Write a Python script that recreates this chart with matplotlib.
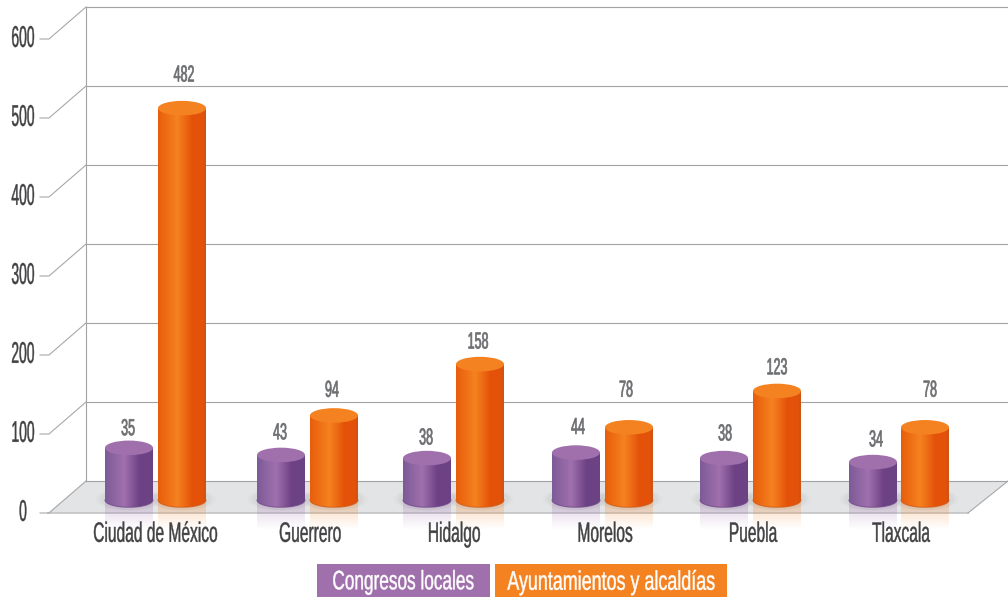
import numpy as np
import matplotlib
matplotlib.use('Agg')
import matplotlib.pyplot as plt
from matplotlib.colors import LinearSegmentedColormap, to_rgb
from matplotlib.patches import Ellipse, PathPatch, Polygon, Rectangle
from matplotlib.path import Path
from matplotlib.patheffects import AbstractPathEffect
from matplotlib.transforms import Affine2D

categories = ['Ciudad de México', 'Guerrero', 'Hidalgo', 'Morelos', 'Puebla', 'Tlaxcala']
congresos_labels = [35, 43, 38, 44, 38, 34]
ayuntamientos_labels = [482, 94, 158, 78, 123, 78]
# drawn height of the cylinders, read against the gridlines (not the same as the labels)
congresos_heights = [66, 57, 53, 60, 53, 48]
ayuntamientos_heights = [496, 107, 172, 92, 138, 92]
yticks = [0, 100, 200, 300, 400, 500, 600]
legend_names = ['Congresos locales', 'Ayuntamientos y alcaldías']

# layout, x is in pixels
px = 0.79  # pixels per unit
DEPTH = 32 / px
BASE = -19 / px
cat_x = [155, 310, 454, 605, 753, 901]
purple_x = [129, 281, 427, 576, 724, 873]
orange_x = [182, 334, 480, 629, 777, 925]
purple_lab_x = [128, 280, 426, 578, 725, 876]
orange_lab_x = [184, 332, 478, 626, 777, 930]
purple_gap = [21, 24, 22, 27, 26, 24]
orange_gap = [35, 27, 24, 39, 25, 39]
BAR_W = 48
RY = 7.3 / px

PURPLE = ['#7d5b98', '#a070ad', '#6d4285', '#6a4383']
ORANGE = ['#e85d0b', '#f58220', '#e4520a', '#cf5412']
FONT = 'Liberation Sans'


class Stretch(AbstractPathEffect):
    # pulls the glyphs up around the text centre, the reference font is tall and condensed
    def __init__(self, y0, sy, lw):
        super().__init__()
        self.y0 = y0
        self.sy = sy
        self.lw = lw

    def draw_path(self, renderer, gc, tpath, affine, rgbFace=None):
        aff = affine + Affine2D().translate(0, -self.y0).scale(1, self.sy).translate(0, self.y0)
        gc0 = renderer.new_gc()
        gc0.copy_properties(gc)
        gc0.set_linewidth(self.lw)
        gc0.set_foreground(rgbFace)
        renderer.draw_path(gc0, tpath, aff, rgbFace)
        gc0.restore()


fig = plt.figure(figsize=(10.08, 5.97), dpi=100)
ax = fig.add_axes([0, 0, 1, 1])
ax.set_xlim(0, 1008)
ax.set_ylim(-116 / px, 481 / px)
ax.axis('off')


def label(x, y, s, size, color, sy, lw=.3):
    y0 = ax.transData.transform((x, y))[1]
    ax.text(x, y, s, fontsize=size, color=color, ha='center', va='center_baseline', family=FONT,
            path_effects=[Stretch(y0, sy, lw)], zorder=20)


def cylinder(x, h, cols):
    l, r = x - BAR_W / 2, x + BAR_W / 2
    top = BASE + h
    t = np.linspace(0, np.pi, 40)
    xs = x + BAR_W / 2 * np.cos(t)
    verts = list(zip(xs, np.full(40, top))) + list(zip(xs[::-1], BASE - RY * np.sin(t[::-1])))
    cmap = LinearSegmentedColormap.from_list(
        'c', [(0, cols[0]), (.4, cols[1]), (.72, cols[2]), (.93, cols[2]), (1, cols[3])])

    # shadow on the floor
    for k, a in zip([1.4, 1.3, 1.2], [.03, .04, .05]):
        ax.add_patch(Ellipse((x, BASE + 1), BAR_W * k, 22 / px, fc='#888888', ec='none', alpha=a, zorder=3))
    # reflection
    fade = np.zeros((30, 2, 4))
    fade[..., :3] = to_rgb(cols[1])
    fade[..., 3] = np.linspace(.3, 0, 30)[:, None]
    ax.imshow(fade, extent=[l, r, BASE - 30 / px, BASE - 2 / px], aspect='auto', zorder=4)

    im = ax.imshow(np.linspace(0, 1, 96)[None, :], extent=[l, r, BASE - RY, top], aspect='auto',
                   cmap=cmap, vmin=0, vmax=1, zorder=6)
    body = PathPatch(Path(verts), transform=ax.transData, fc='none', ec='none')
    ax.add_patch(body)
    im.set_clip_path(body)
    # dark rim along the bottom
    ax.plot(xs, BASE - RY * np.sin(t), color=cols[3], lw=.8, alpha=.7, zorder=7)
    ax.add_patch(Ellipse((x, top), BAR_W, 2 * RY, fc=cols[1], ec='none', zorder=8))


# back wall and floor
ax.add_patch(Polygon([(48, -DEPTH), (86, 0), (1008, 0), (968, -DEPTH)],
                     fc='#e3e4e6', ec='none', zorder=1))
ax.plot([48, 968], [-DEPTH, -DEPTH], color='#c2c3c5', lw=1.2, zorder=2)
ax.plot([968, 1008], [-DEPTH, 0], color='#a8a8a8', lw=.8, zorder=2)
ax.plot([86, 86], [0, yticks[-1]], color='#a3a3a3', lw=.8, zorder=2)
for v in yticks:
    ax.plot([86, 1008], [v, v], color='#a3a3a3', lw=.8, zorder=2)
    ax.plot([40, 49, 86], [v - DEPTH, v - DEPTH, v], color='#a8a8a8', lw=.8, zorder=2)
    label(23, v - DEPTH + 4 / px, str(v), 10, '#414042', 2.15)

for i, cat in enumerate(categories):
    cylinder(purple_x[i], congresos_heights[i], PURPLE)
    cylinder(orange_x[i], ayuntamientos_heights[i], ORANGE)
    label(purple_lab_x[i], BASE + congresos_heights[i] + purple_gap[i] / px,
          str(congresos_labels[i]), 9, '#6d6e71', 1.85, .5)
    label(orange_lab_x[i], BASE + ayuntamientos_heights[i] + orange_gap[i] / px,
          str(ayuntamientos_labels[i]), 9, '#6d6e71', 1.85, .5)
    label(cat_x[i], -50 / px, cat, 11.2, '#414042', 1.8)

# legend boxes
ax.add_patch(Rectangle((317, -116 / px), 173, 33 / px, fc='#a070ad', ec='none', zorder=10))
ax.add_patch(Rectangle((495, -116 / px), 232, 33 / px, fc='#f58220', ec='none', zorder=10))
label(403.5, -99 / px, legend_names[0], 12.4, 'white', 1.55)
label(611, -99 / px, legend_names[1], 12.9, 'white', 1.5)

fig.savefig('out.png', dpi=100)
